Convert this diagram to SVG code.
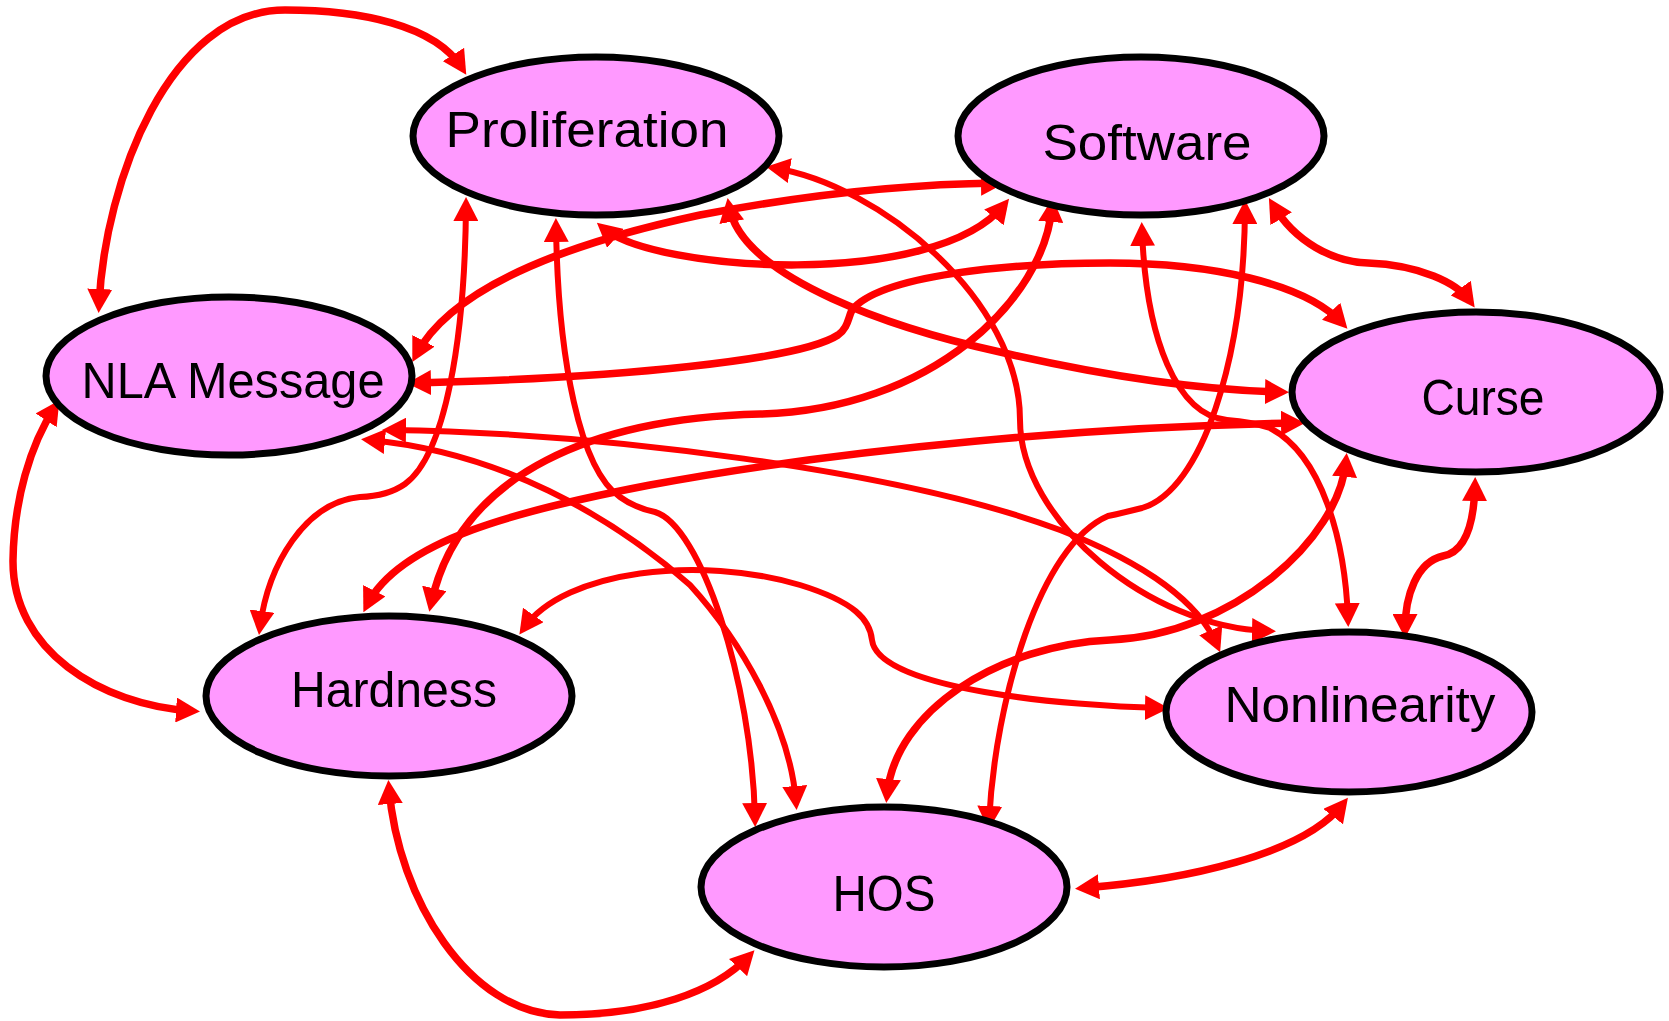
<svg xmlns="http://www.w3.org/2000/svg" width="1669" height="1021" viewBox="0 0 1669 1021">
<defs>
<style>
.c path{fill:none;stroke:#ff0000;stroke-linejoin:round;marker-start:url(#ah);marker-end:url(#ah)}
.c .t5{stroke-width:6}
.c .t6{stroke-width:7.5}
.n ellipse{fill:#ff99ff;stroke:#000000;stroke-width:7}
.n text{font-family:"Liberation Sans",Arial,sans-serif;font-size:50px;fill:#000000;text-anchor:middle}
</style>
<marker id="ah" viewBox="0 0 24 25" refX="16" refY="12.5" markerWidth="24" markerHeight="25" markerUnits="userSpaceOnUse" orient="auto-start-reverse">
<path d="M0,0 L24,12.5 L0,25 z" fill="#ff0000"/>
</marker>
</defs>
<rect width="1669" height="1021" fill="#ffffff"/>
<g id="connectors" class="c">
<path class="t6" d="M 99,305 C 105,180 170,10 285,10 C 360,10 435,25 462,68"/>
<path class="t6" d="M 55,407 C 30,445 14,500 13,560 C 12,650 100,705 192,711"/>
<path class="t5" d="M 466,205 C 465,340 445,455 405,484 Q 388,496 360,497 C 305,502 268,565 260,627"/>
<path class="t5" d="M 556,226 C 558,360 580,470 620,497 Q 635,508 655,512 C 700,525 752,680 755,819"/>
<path class="t5" d="M 369,440 C 500,452 610,515 690,585 C 740,640 790,725 796,802"/>
<path class="t5" d="M 390,430 C 600,433 900,470 1060,530 C 1150,565 1200,605 1217,645"/>
<path class="t6" d="M 603,228 C 655,272 935,290 1004,205"/>
<path class="t6" d="M 416,355 C 450,290 560,245 700,215 C 820,192 920,184 997,183"/>
<path class="t6" d="M 415,383 C 620,378 800,360 838,335 C 848,328 848,318 852,310 C 880,275 1010,263 1110,263 C 1210,263 1305,283 1342,323"/>
<path class="t6" d="M 729,206 C 742,280 900,330 1000,352 C 1100,375 1200,390 1281,392"/>
<path class="t6" d="M 1273,205 C 1295,242 1333,262 1368,263 C 1420,265 1457,283 1470,301"/>
<path class="t6" d="M 1052,206 C 1045,300 930,410 760,414 C 600,418 460,470 431,604"/>
<path class="t6" d="M 367,605 C 400,540 520,510 650,485 C 850,448 1100,426 1297,423"/>
<path class="t5" d="M 1245,208 C 1244,360 1202,490 1142,508 Q 1122,513 1108,516 C 1040,545 995,700 989,822"/>
<path class="t5" d="M 1142,230 C 1146,340 1177,415 1227,420 Q 1252,422 1270,428 C 1322,455 1345,540 1348,619"/>
<path class="t6" d="M 1346,461 C 1339,540 1232,635 1110,640 C 1000,645 895,710 887,795"/>
<path class="t6" d="M 1475,485 C 1474,525 1465,552 1443,556 C 1417,562 1405,595 1405,630"/>
<path class="t5" d="M 524,628 C 565,570 700,555 800,585 C 855,602 870,620 872,640 C 878,690 1070,706 1161,708"/>
<path class="t6" d="M 389,788 C 398,900 470,1013 560,1015 C 650,1015 715,992 749,956"/>
<path class="t6" d="M 1083,888 C 1185,880 1303,855 1343,804"/>
<path class="t5" d="M 774,168 C 880,185 1020,300 1020,420 C 1020,520 1150,628 1268,631"/>
</g>
<g id="node-proliferation" class="n">
<ellipse cx="596" cy="136" rx="183" ry="79"/>
<text x="587" y="147" textLength="283" lengthAdjust="spacingAndGlyphs">Proliferation</text>
</g>
<g id="node-software" class="n">
<ellipse cx="1141" cy="136" rx="183" ry="79"/>
<text x="1147" y="160" textLength="209" lengthAdjust="spacingAndGlyphs">Software</text>
</g>
<g id="node-nla-message" class="n">
<ellipse cx="229" cy="376" rx="183" ry="79"/>
<text x="233" y="398" textLength="303" lengthAdjust="spacingAndGlyphs">NLA Message</text>
</g>
<g id="node-curse" class="n">
<ellipse cx="1476" cy="392" rx="184" ry="80"/>
<text x="1483" y="415" textLength="123" lengthAdjust="spacingAndGlyphs">Curse</text>
</g>
<g id="node-hardness" class="n">
<ellipse cx="389" cy="696" rx="183" ry="80"/>
<text x="394" y="707" textLength="206" lengthAdjust="spacingAndGlyphs">Hardness</text>
</g>
<g id="node-hos" class="n">
<ellipse cx="884" cy="887" rx="183" ry="80"/>
<text x="884" y="911" textLength="103" lengthAdjust="spacingAndGlyphs">HOS</text>
</g>
<g id="node-nonlinearity" class="n">
<ellipse cx="1349" cy="712" rx="183" ry="80"/>
<text x="1360" y="722" textLength="271" lengthAdjust="spacingAndGlyphs">Nonlinearity</text>
</g>
</svg>
